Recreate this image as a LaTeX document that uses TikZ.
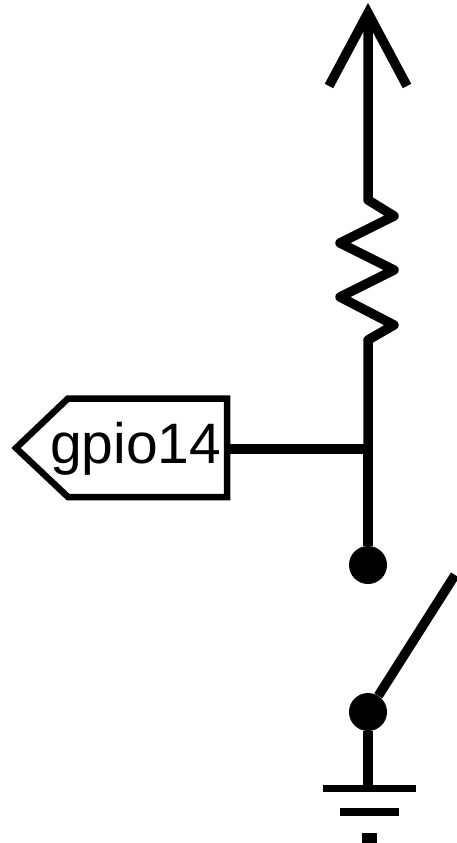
\documentclass[tikz,border=0pt]{standalone}
\usepackage{fontspec}
\setmainfont{Liberation Sans}
\tikzset{
  wire/.style={line width=9.5pt,line join=miter,black},
  zigzag/.style={line width=9.5pt,line join=round,black},
  outline/.style={line width=6.5pt,line join=miter,black},
  dot/.style={circle,fill=black,draw=none,minimum size=38pt,inner sep=0pt},
  gndbar/.style={line width=7pt,black},
  lbl/.style={font=\fontsize{57}{60}\selectfont,inner sep=0pt,anchor=base west}
}
\begin{document}
\begin{tikzpicture}[x=1pt,y=-1pt]
\useasboundingbox (0,0) rectangle (457,843);
% coordinates
\coordinate (tip) at (368,13);
\coordinate (headL) at (329,86);
\coordinate (headR) at (407,86);
\coordinate (resTop) at (368,200);
\coordinate (resBot) at (368,340);
\coordinate (junction) at (368,449);
\coordinate (portR) at (228,449);
\coordinate (gndTop) at (368,788);
\coordinate (swEnd) at (455,575);
% wires
\draw[wire] (headL) -- (tip) -- (headR);
\draw[zigzag] (tip) -- (resTop) -- (394,216) -- (340,243) -- (394,270) -- (340,297) -- (394,325) -- (resBot) -- (junction);
% dots
\node[dot] (upper) at (368,565) {};
\node[dot] (lower) at (368,712) {};
\draw[wire] (junction) -- (upper);
\draw[wire] (lower) -- (swEnd);
\draw[wire] (lower) -- (gndTop);
% port
\draw[outline] (16,448) -- (68,398.5) -- (227,398.5) -- (227,497) -- (68,497) -- cycle;
\draw[wire] (portR) -- (junction);
\node[lbl] (gpio) at (50,463) {gpio14};
% ground
\draw[gndbar] (323,788) -- (416,788);
\draw[gndbar,line width=8pt] (340,812) -- (399,812);
\draw[gndbar,line width=10pt] (362,838) -- (377,838);
\end{tikzpicture}
\end{document}
